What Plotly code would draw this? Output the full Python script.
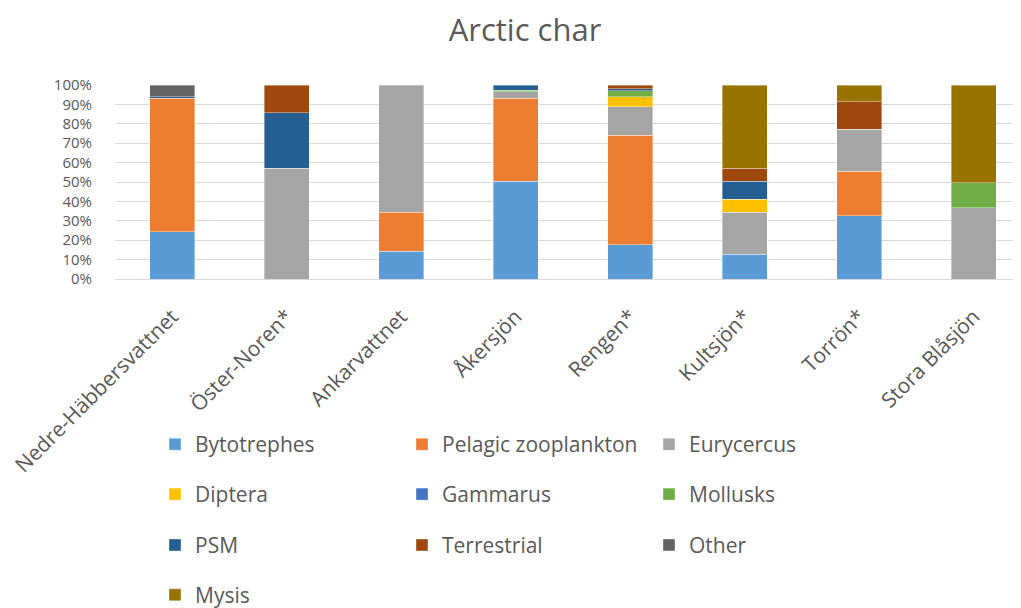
import plotly.graph_objects as go

categories = ["Nedre-Häbbersvattnet", "Öster-Noren*", "Ankarvattnet", "Åkersjön",
              "Rengen*", "Kultsjön*", "Torrön*", "Stora Blåsjön"]

bytotrephes = [24.3, 0, 14.4, 50.3, 17.6, 12.7, 32.7, 0]
pelagic_zooplankton = [68.9, 0, 20.0, 42.9, 56.4, 0, 22.8, 0]
eurycercus = [0, 57.0, 65.6, 3.4, 14.9, 21.7, 21.7, 36.8]
diptera = [0, 0, 0, 0, 5.1, 6.7, 0, 0]
gammarus = [0, 0, 0, 0, 0, 0, 0, 0]
mollusks = [0, 0, 0, 0.7, 3.1, 0, 0, 12.7]
psm = [0.7, 28.6, 0, 2.7, 0.9, 9.2, 0, 0]
terrestrial = [0, 14.4, 0, 0, 2.0, 6.7, 14.2, 0]
other = [6.1, 0, 0, 0, 0, 0, 0, 0]
mysis = [0, 0, 0, 0, 0, 43.0, 8.6, 50.5]

y_ticks = [0, 10, 20, 30, 40, 50, 60, 70, 80, 90, 100]

series = [
    ("Bytotrephes", bytotrephes, "#5B9BD5", "legend"),
    ("Pelagic zooplankton", pelagic_zooplankton, "#ED7D31", "legend"),
    ("Eurycercus", eurycercus, "#A5A5A5", "legend"),
    ("Diptera", diptera, "#FFC000", "legend2"),
    ("Gammarus", gammarus, "#4472C4", "legend2"),
    ("Mollusks", mollusks, "#70AD47", "legend2"),
    ("PSM", psm, "#255E91", "legend3"),
    ("Terrestrial", terrestrial, "#9E480E", "legend3"),
    ("Other", other, "#636363", "legend3"),
    ("Mysis", mysis, "#997300", "legend4"),
]

TXT = "#595959"
FONT = "Open Sans"

fig = go.Figure()
for name, vals, color, lg in series:
    fig.add_trace(go.Bar(
        x=categories,
        y=[v if v else None for v in vals],
        name=name,
        marker=dict(color=color, line=dict(color="rgba(255,255,255,0.5)", width=0.75)),
        width=0.39,
        legend=lg,
    ))

# page body has an 8px margin; figure coordinates = screen coordinates - 8
OFF = 8
W, H = 1021 - OFF, 608 - OFF
ml, mr = 115 - OFF, 0
mt = 84.5 - OFF
mb = H - (279 - OFF)
plot_h = H - mt - mb
plot_w = W - ml - mr


def py(screen_y):
    return (H - mb - (screen_y - OFF)) / plot_h


def pxx(screen_x):
    return ((screen_x - OFF) - ml) / plot_w


legend_common = dict(orientation="h", entrywidth=202, entrywidthmode="pixels",
                     font=dict(family=FONT, size=21, color=TXT),
                     bgcolor="rgba(0,0,0,0)", xanchor="left", yanchor="middle",
                     traceorder="normal", itemclick=False)

LX = pxx(155)

fig.update_layout(
    width=W, height=H,
    margin=dict(l=ml, r=mr, t=mt, b=mb, autoexpand=False),
    paper_bgcolor="white", plot_bgcolor="white",
    barmode="stack",
    title=dict(text="Arctic char", x=(525 - OFF) / W, xref="container", xanchor="center",
               y=1 - (30 - OFF) / H, yref="container", yanchor="middle",
               font=dict(family=FONT, size=31, color=TXT)),
    xaxis=dict(range=[-0.5, (W - ml) / 114.5 - 0.5], tickangle=-45,
               tickfont=dict(family=FONT, size=21, color=TXT),
               showgrid=False, showline=True, linecolor="#D9D9D9", linewidth=1,
               ticks="", ticklabelstandoff=16),
    yaxis=dict(range=[0, 100], tickvals=y_ticks, ticktext=[f"{v}%" for v in y_ticks],
               tickfont=dict(family=FONT, size=15, color=TXT),
               showgrid=True, gridcolor="#D9D9D9", gridwidth=1, zeroline=False,
               ticks="", ticklabelstandoff=22),
    legend=dict(x=LX, y=py(445), **legend_common),
    legend2=dict(x=LX, y=py(495), **legend_common),
    legend3=dict(x=LX, y=py(546), **legend_common),
    legend4=dict(x=LX, y=py(596), **legend_common),
)

fig.write_html("out.html")
